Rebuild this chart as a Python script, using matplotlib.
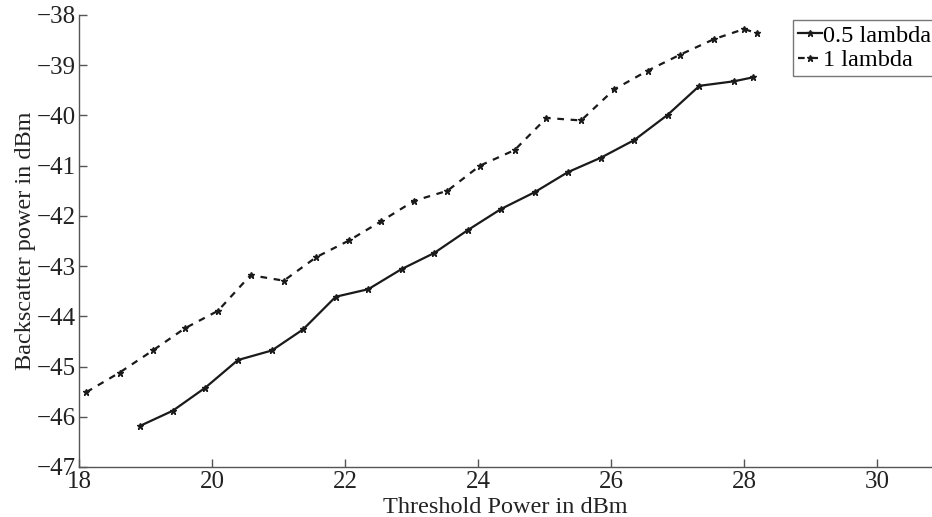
import matplotlib
matplotlib.use("Agg")
import matplotlib.pyplot as plt

# Data
x_half = [18.92, 19.41, 19.90, 20.39, 20.90, 21.37, 21.86, 22.35, 22.85, 23.34,
          23.85, 24.35, 24.85, 25.35, 25.85, 26.35, 26.85, 27.33, 27.85, 28.14]
y_half = [-46.18, -45.88, -45.42, -44.87, -44.68, -44.26, -43.61, -43.46, -43.06, -42.74,
          -42.28, -41.86, -41.53, -41.13, -40.84, -40.49, -39.99, -39.41, -39.32, -39.24]
x_one = [18.11, 18.61, 19.11, 19.59, 20.09, 20.58, 21.08, 21.57, 22.06, 22.54,
         23.04, 23.54, 24.03, 24.55, 25.03, 25.55, 26.05, 26.55, 27.04, 27.55,
         28.00, 28.19]
y_one = [-45.51, -45.12, -44.68, -44.24, -43.89, -43.18, -43.29, -42.82, -42.49, -42.11,
         -41.70, -41.50, -41.00, -40.69, -40.05, -40.10, -39.48, -39.11, -38.79, -38.48,
         -38.28, -38.36]
series_labels = ["0.5 lambda", "1 lambda"]
x_ticks = [18, 20, 22, 24, 26, 28, 30]
y_ticks = [-47, -46, -45, -44, -43, -42, -41, -40, -39, -38]
x_label = "Threshold Power in dBm"
y_label = "Backscatter power in dBm"

plt.rcParams['font.family'] = ['Liberation Serif', 'DejaVu Serif']

fig = plt.figure(figsize=(9.32, 5.17), dpi=100)
ax = fig.add_axes([79/932, 50/517, (932-79)/932, (467-15)/517])

lc = "#1a1a1a"
ax.plot(x_half, y_half, color=lc, lw=1.6, marker='*', ms=5, label=series_labels[0])
ax.plot(x_one, y_one, color=lc, lw=1.6, ls=(0, (3, 3)), marker='*', ms=5, label=series_labels[1])

ax.set_xlim(18, 18 + 853/66.5)
ax.set_ylim(-47, -38)
ax.set_xticks(x_ticks)
ax.set_yticks(y_ticks)
ax.set_yticklabels([f"\u2212{abs(v)}" for v in y_ticks])
ax.spines['top'].set_visible(False)
ax.spines['right'].set_visible(False)
for s in ('left', 'bottom'):
    ax.spines[s].set_color('#555555')
    ax.spines[s].set_linewidth(1.0)
ax.tick_params(direction='in', length=6, width=1, colors='#555555', labelcolor='#222222',
               labelsize=18, pad=2)
ax.tick_params(axis='x', pad=3)
ax.set_xlabel(x_label, fontsize=17.5, color='#222222', labelpad=3)
ax.set_ylabel(y_label, fontsize=17.5, color='#222222', labelpad=1)

leg = ax.legend(loc='upper left', bbox_to_anchor=((793-79)/853, 1.0 - 5/452),
                fontsize=17.5, frameon=True, fancybox=False, edgecolor='#555555',
                handlelength=1.0, handletextpad=0.05, borderpad=0.2, labelspacing=0.1,
                borderaxespad=0)
leg.get_frame().set_linewidth(1.0)

fig.savefig("out.png", dpi=100, facecolor='white')
